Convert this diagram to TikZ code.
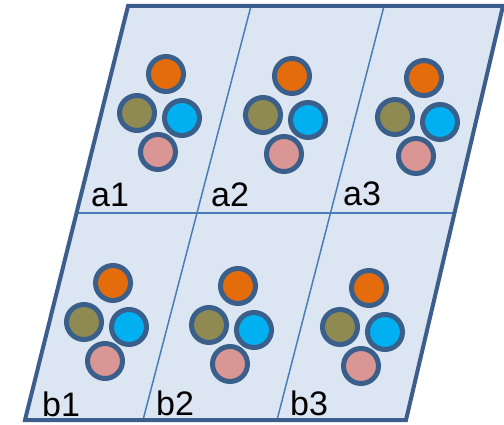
\documentclass[tikz,border=0pt]{standalone}
\usepackage{fontspec}
\setmainfont{Liberation Sans}
\definecolor{cellfill}{HTML}{DCE6F2}
\definecolor{frame}{HTML}{3B5E8C}
\definecolor{divline}{HTML}{4A7EBB}
\definecolor{ringc}{HTML}{3A5F8B}
\definecolor{corange}{HTML}{E46C0A}
\definecolor{colive}{HTML}{8F8A52}
\definecolor{ccyan}{HTML}{00B0F0}
\definecolor{cpink}{HTML}{D99694}
\tikzset{
  dot/.style={circle, draw=ringc, line width=5pt, minimum size=35pt, inner sep=0pt},
  lbl/.style={anchor=base west, inner sep=0pt, font=\fontsize{34}{34}\selectfont},
  divider/.style={draw=divline, line width=1.5pt}
}
\newcommand{\cluster}[3]{%
  \node[dot, fill=corange] (#1o) at (#2,#3) {};
  \node[dot, fill=colive] (#1l) at (#2-29,#3+39) {};
  \node[dot, fill=ccyan] (#1c) at (#2+16,#3+44) {};
  \node[dot, fill=cpink] (#1p) at (#2-8,#3+78) {};
}
\begin{document}
\begin{tikzpicture}[x=1pt,y=-1pt]
\useasboundingbox (0,0) rectangle (504,425);
% corners
\coordinate (tl) at (128,6);
\coordinate (tr) at (503,6);
\coordinate (br) at (406,420);
\coordinate (bl) at (25,420);
\fill[cellfill] (tl) -- (tr) -- (br) -- (bl) -- cycle;
% dividers
\coordinate (v1t) at (251,6);
\coordinate (v1b) at (143,420);
\coordinate (v2t) at (384,6);
\coordinate (v2b) at (277,420);
\coordinate (hl) at (76.5,213);
\coordinate (hr) at (454.5,213);
\path[divider] (v1t) -- (v1b);
\path[divider] (v2t) -- (v2b);
\path[divider] (hl) -- (hr);
\draw[frame, line width=4pt, line join=miter] (tl) -- (tr) -- (br) -- (bl) -- cycle;
% circles
\cluster{a1}{166}{74}
\cluster{a2}{292}{76}
\cluster{a3}{424}{78}
\cluster{b1}{113}{283}
\cluster{b2}{238}{286}
\cluster{b3}{369}{288}
% labels
\node[lbl] (la1) at (91,207) {a1};
\node[lbl] (la2) at (211,207) {a2};
\node[lbl] (la3) at (343,206) {a3};
\node[lbl] (lb1) at (42,416) {b1};
\node[lbl] (lb2) at (156,415) {b2};
\node[lbl] (lb3) at (290,415) {b3};
\end{tikzpicture}
\end{document}
